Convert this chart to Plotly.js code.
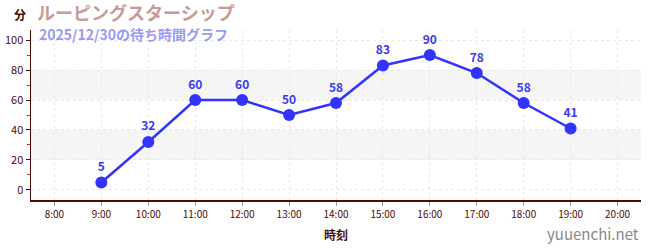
<!DOCTYPE html>
<html><head><meta charset="utf-8">
<script src="https://cdn.plot.ly/plotly-3.0.1.min.js"></script>
<style>html,body{margin:0;padding:0;background:#fff}#c{width:650px;height:250px}</style>
</head><body><div id="c"></div>
<script>
const hours = [9, 10, 11, 12, 13, 14, 15, 16, 17, 18, 19];
const waits = [5, 32, 60, 60, 50, 58, 83, 90, 78, 58, 41];
const tickHours = [8, 9, 10, 11, 12, 13, 14, 15, 16, 17, 18, 19, 20];
const tickLabels = ["8:00","9:00","10:00","11:00","12:00","13:00","14:00","15:00","16:00","17:00","18:00","19:00","20:00"];
const bands = [[20, 40], [60, 80]];
const yTicks = [0, 20, 40, 60, 80, 100];
const titleText = "ルーピングスターシップ";
const subText = "2025/12/30の待ち時間グラフ";

const dark = "#4a0a0a";
const font = "'Noto Sans CJK JP', 'Noto Sans', sans-serif";

const shapes = bands.map(b => ({type:"rect", xref:"paper", yref:"y", x0:0, x1:1, y0:b[0], y1:b[1], fillcolor:"#f5f5f5", line:{width:0}, layer:"below"}));

Plotly.newPlot("c", [{
  x: hours, y: waits, type: "scatter", mode: "lines+markers+text",
  line: {color: "#3333ff", width: 2.5},
  marker: {color: "#3333ff", size: 12},
  text: waits.map(String), textposition: "top center",
  textfont: {color: "#3a3aee", size: 12, family: font, weight: "bold"},
  cliponaxis: false, hoverinfo: "none"
}], {
  width: 650, height: 250,
  margin: {l: 31, r: 9, t: 30, b: 50},
  paper_bgcolor: "#fff", plot_bgcolor: "#fff",
  showlegend: false,
  font: {family: font, color: dark},
  shapes: shapes,
  xaxis: {
    range: [7.5, 20.5], tickvals: tickHours, ticktext: tickLabels,
    showline: true, linecolor: dark, linewidth: 1.5,
    ticks: "outside", ticklen: 4, tickcolor: "#999",
    showgrid: true, gridcolor: "#e8e8e8", griddash: "3px,3px",
    zeroline: false,
    tickfont: {size: 10, color: dark, family: font},
    title: {text: "時刻", font: {size: 12, color: dark, family: font, weight: "bold"}, standoff: 12}
  },
  yaxis: {
    range: [-6.7, 106.7], tickvals: yTicks,
    showline: true, linecolor: dark, linewidth: 1.5,
    ticks: "outside", ticklen: 4, tickcolor: dark,
    minor: {dtick: 20, tick0: 10, ticks: "outside", ticklen: 3, tickcolor: "#d22", showgrid: false},
    showgrid: true, gridcolor: "#e8e8e8", griddash: "3px,3px",
    zeroline: false,
    tickfont: {size: 11, color: dark, family: font}
  },
  annotations: [
    {text: "<b>分</b>", xref: "paper", yref: "paper", x: -0.018, y: 1.09, xanchor: "center", yanchor: "middle", showarrow: false, font: {size: 12, color: dark, family: font}},
    {text: "<b>" + titleText + "</b>", xref: "paper", yref: "paper", x: 0.008, y: 1.105, xanchor: "left", yanchor: "middle", showarrow: false, borderpad: 0, font: {size: 18, color: "#c99a9a", family: font}},
    {text: "<b>" + subText + "</b>", xref: "paper", yref: "paper", x: 0.012, y: 0.975, xanchor: "left", yanchor: "middle", showarrow: false, borderpad: 0, font: {size: 14, color: "#9a9af5", family: font}},
    {text: "yuuenchi.net", xref: "paper", yref: "paper", x: 1.0, y: -0.195, xanchor: "right", yanchor: "middle", showarrow: false, font: {size: 15, color: "#888", family: font}}
  ]
}, {displayModeBar: false, staticPlot: true});
</script></body></html>
